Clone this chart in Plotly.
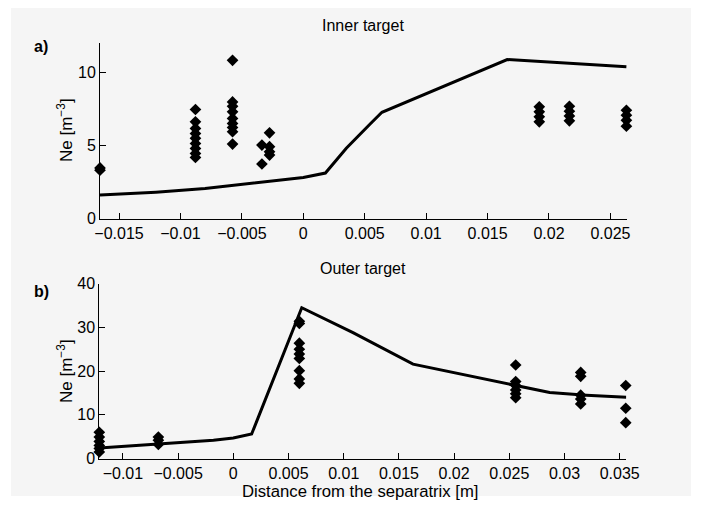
import plotly.graph_objects as go

# ---- Inner target (a) ----
inner_line_x = [-0.01655, -0.012, -0.008, -0.004, 0.0, 0.0018, 0.0035, 0.0055, 0.0064, 0.0166, 0.0175, 0.021, 0.0263]
inner_line_y = [1.6, 1.8, 2.05, 2.45, 2.8, 3.1, 4.8, 6.5, 7.25, 10.85, 10.8, 10.6, 10.35]

inner_pts_x = [-0.01655, -0.01655,
               -0.00878, -0.00878, -0.00878, -0.00878, -0.00878, -0.00878, -0.00878, -0.00878, -0.00878,
               -0.00576, -0.00576, -0.00576, -0.00576, -0.00576, -0.00576, -0.00576, -0.00576, -0.00576,
               -0.00337, -0.00337,
               -0.00275, -0.00275, -0.00275, -0.00275,
               0.01921, 0.01921, 0.01921, 0.01921,
               0.02166, 0.02166, 0.02166, 0.02166,
               0.0263, 0.0263, 0.0263, 0.0263]
inner_pts_y = [3.45, 3.3,
               7.44, 6.6, 6.15, 5.8, 5.47, 5.12, 4.78, 4.44, 4.17,
               10.8, 7.96, 7.66, 7.28, 6.83, 6.49, 6.21, 5.92, 5.08,
               5.01, 3.72,
               5.85, 4.9, 4.56, 4.33,
               7.62, 7.28, 6.94, 6.6,
               7.66, 7.32, 7.0, 6.67,
               7.39, 7.05, 6.7, 6.3]

# ---- Outer target (b) ----
outer_line_x = [-0.01214, -0.00664, -0.0018, 0.0, 0.00166, 0.0062, 0.01084, 0.01628, 0.0199, 0.02563, 0.02866, 0.03198, 0.0356]
outer_line_y = [2.4, 3.3, 4.2, 4.7, 5.6, 34.5, 28.8, 21.6, 19.7, 16.7, 15.1, 14.5, 14.0]

outer_pts_x = [-0.01214, -0.01214, -0.01214, -0.01214, -0.01214, -0.01214,
               -0.00679, -0.00679, -0.00679,
               0.00598, 0.00598, 0.00598, 0.00598, 0.00598, 0.00598, 0.00598, 0.00598, 0.00598,
               0.02558, 0.02558, 0.02558, 0.02558, 0.02558, 0.02558,
               0.03147, 0.03147, 0.03147, 0.03147, 0.03147,
               0.03555, 0.03555, 0.03555]
outer_pts_y = [6.0, 4.9, 3.9, 3.0, 2.3, 1.5,
               4.9, 4.2, 3.2,
               31.4, 30.9, 26.4, 25.0, 23.9, 22.9, 20.1, 18.2, 17.2,
               21.4, 17.6, 16.7, 15.7, 14.8, 13.9,
               19.7, 18.8, 14.5, 13.6, 12.5,
               16.7, 11.5, 8.2]

inner_xticks = [-0.015, -0.01, -0.005, 0, 0.005, 0.01, 0.015, 0.02, 0.025]
inner_yticks = [0, 5, 10]
outer_xticks = [-0.01, -0.005, 0, 0.005, 0.01, 0.015, 0.02, 0.025, 0.03, 0.035]
outer_yticks = [0, 10, 20, 30, 40]

W, H = 706, 506
OFF = 8  # page body margin offset
FONT = "Liberation Sans"

fig = go.Figure()
fig.add_trace(go.Scatter(x=inner_line_x, y=inner_line_y, mode="lines",
                         line=dict(color="black", width=3), xaxis="x", yaxis="y", showlegend=False))
fig.add_trace(go.Scatter(x=inner_pts_x, y=inner_pts_y, mode="markers",
                         marker=dict(symbol="diamond", size=9, color="black"),
                         xaxis="x", yaxis="y", showlegend=False, cliponaxis=False))
fig.add_trace(go.Scatter(x=outer_line_x, y=outer_line_y, mode="lines",
                         line=dict(color="black", width=3), xaxis="x2", yaxis="y2", showlegend=False))
fig.add_trace(go.Scatter(x=outer_pts_x, y=outer_pts_y, mode="markers",
                         marker=dict(symbol="diamond", size=9, color="black"),
                         xaxis="x2", yaxis="y2", showlegend=False, cliponaxis=False))


def px(v):
    return (v - OFF) / W


def py(v):
    return 1 - (v - OFF) / H


def fmt(v):
    return ("%g" % v).replace("-", "\u2212")


axcommon = dict(showgrid=False, zeroline=False, showline=True, linecolor="black", linewidth=1,
                ticks="inside", ticklen=6, tickcolor="black", tickwidth=1, automargin=False,
                tickfont=dict(family=FONT, size=16, color="black"), mirror=False)

fig.update_layout(
    template="none",
    width=W, height=H,
    margin=dict(l=0, r=0, t=0, b=0),
    paper_bgcolor="white", plot_bgcolor="rgba(0,0,0,0)",
    xaxis=dict(domain=[px(100), px(627)], range=[-0.01655, 0.02635], anchor="y",
               tickvals=inner_xticks, ticktext=[fmt(v) for v in inner_xticks], **axcommon),
    yaxis=dict(domain=[py(218.5), py(42.7)], range=[0, 12], anchor="x",
               tickvals=inner_yticks, ticktext=[fmt(v) for v in inner_yticks], **axcommon),
    xaxis2=dict(domain=[px(99.3), px(626.3)], range=[-0.01214, 0.0356], anchor="y2",
                tickvals=outer_xticks, ticktext=[fmt(v) for v in outer_xticks], **axcommon),
    yaxis2=dict(domain=[py(458.5), py(283.7)], range=[0, 40], anchor="x2",
                tickvals=outer_yticks, ticktext=[fmt(v) for v in outer_yticks], **axcommon),
    shapes=[dict(type="rect", xref="paper", yref="paper", x0=px(11), x1=px(691), y0=py(496), y1=py(5),
                 fillcolor="#f5f5f5", line=dict(width=0), layer="below")],
)

ann = []


def text(x, y, s, size=14, bold=False, angle=0):
    ann.append(dict(x=px(x), y=py(y), xref="paper", yref="paper", text=("<b>%s</b>" % s) if bold else s,
                    showarrow=False, xanchor="center", yanchor="middle", textangle=angle,
                    font=dict(family=FONT, size=size, color="black")))


text(362.5, 25, "Inner target", 16)
text(362.5, 268, "Outer target", 16)
text(41, 46, "a)", 16, bold=True)
text(41, 291, "b)", 16, bold=True)
text(65, 130, "Ne [m<sup>\u22123</sup>]", 17, angle=-90)
text(65, 371, "Ne [m<sup>\u22123</sup>]", 17, angle=-90)
text(360.5, 491, "Distance from the separatrix [m]", 16.7)
fig.update_layout(annotations=ann)

fig.write_html("out.html")
